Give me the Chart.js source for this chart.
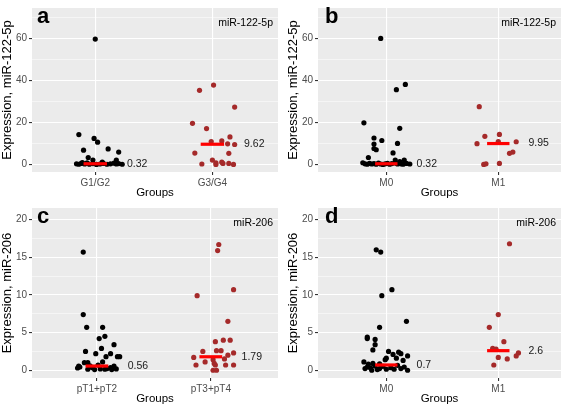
<!DOCTYPE html>
<html>
<head>
<meta charset="utf-8">
<script src="https://cdn.jsdelivr.net/npm/chart.js@4.4.1/dist/chart.umd.min.js"></script>
<style>
html, body { margin: 0; padding: 0; background: #ffffff; }
#wrap { position: relative; width: 567px; height: 406px; overflow: hidden; }
canvas { position: absolute; }
</style>
</head>
<body>
<div id="wrap">
  <canvas id="panel_a" width="283" height="200" style="left:0px;top:0px"></canvas>
  <canvas id="panel_b" width="284" height="200" style="left:283px;top:0px"></canvas>
  <canvas id="panel_c" width="283" height="206" style="left:0px;top:200px"></canvas>
  <canvas id="panel_d" width="284" height="206" style="left:283px;top:200px"></canvas>
</div>
<script>
// values (y = expression, jit = horizontal jitter around the group)
var panel_letters = ['a', 'b', 'c', 'd'];
var mirna_names = ['miR-122-5p', 'miR-122-5p', 'miR-206', 'miR-206'];

var groups_a = ['G1/G2', 'G3/G4'];
var groups_b = ['M0', 'M1'];
var groups_c = ['pT1+pT2', 'pT3+pT4'];
var groups_d = ['M0', 'M1'];

var medians_a = [0.32, 9.62];
var medians_b = [0.32, 9.95];
var medians_c = [0.56, 1.79];
var medians_d = [0.7, 2.6];

var y_ticks_122 = [0, 20, 40, 60];
var y_ticks_206 = [0, 5, 10, 15, 20];

var a_low_y = [59.7, 14.2, 12.4, 10.6, 7.4, 6.8, 5.9, 3.3, 2.1, 2.1, 1.1, 0.9, 0.3, 0.1, 0.5, 0.2, 0.8, 0.1, 0.4, 0.0, 0.2, 0.5, 0.1, 0.3, 0.6, 0.2, 0.4, 0.1];
var a_low_jit = [0.0, -0.14, -0.01, 0.02, 0.11, -0.10, 0.20, -0.06, -0.02, 0.18, 0.06, -0.11, -0.16, -0.14, -0.12, -0.09, -0.07, -0.05, -0.02, 0.01, 0.04, 0.07, 0.10, 0.13, 0.16, 0.18, 0.20, 0.23];
var a_high_y = [35.3, 37.8, 27.3, 19.6, 17.1, 10.9, 11.2, 13.1, 9.8, 9.5, 5.4, 5.3, 2.1, 0.8, 1.1, 0.5, 0.2, 0.0, 0.5, 0.0];
var a_high_jit = [-0.11, 0.01, 0.19, -0.17, -0.05, -0.01, 0.08, 0.15, 0.13, 0.19, -0.15, 0.14, 0.0, 0.03, 0.08, 0.09, -0.09, 0.03, 0.14, 0.18];

var b_low_y = [60.0, 35.6, 38.1, 19.8, 17.2, 12.6, 11.4, 10.0, 9.7, 7.6, 7.0, 5.5, 3.3, 2.1, 2.1, 1.4, 0.8, 0.3, 0.1, 0.5, 0.2, 0.4, 0.1, 0.6, 0.2, 0.0, 0.3, 0.5, 0.1, 0.4, 0.7, 0.2, 0.3, 0.1, 0.5, 0.2];
var b_low_jit = [-0.05, 0.09, 0.17, -0.20, 0.12, -0.11, -0.04, 0.10, -0.11, -0.11, -0.09, 0.06, -0.16, 0.08, 0.16, 0.12, -0.21, -0.19, -0.17, -0.15, -0.13, -0.11, -0.09, -0.07, -0.05, -0.03, -0.01, 0.01, 0.03, 0.05, 0.08, 0.10, 0.13, 0.15, 0.18, 0.21];
var b_high_y = [27.5, 13.4, 14.3, 9.9, 10.9, 10.8, 5.9, 5.3, 0.0, 0.3, 0.5];
var b_high_jit = [-0.17, -0.12, 0.01, -0.19, 0.0, 0.16, 0.13, 0.10, -0.13, -0.11, 0.01];

var c_low_y = [15.7, 7.4, 5.7, 5.7, 4.5, 4.2, 2.9, 3.4, 2.5, 2.2, 2.2, 1.8, 1.8, 1.8, 1.0, 1.0, 1.1, 0.56, 0.30, 0.43, 0.34, 0.13, 0.09, 0.17, 0.22, 0.34, 0.56, 0.09, 0.17, 0.60, 0.69, 0.13];
var c_low_jit = [-0.12, -0.12, -0.09, 0.05, 0.07, 0.02, 0.04, 0.15, -0.10, -0.01, 0.12, 0.08, 0.18, 0.20, -0.08, -0.11, 0.05, -0.16, -0.17, -0.15, -0.04, -0.08, -0.02, 0.03, 0.09, 0.12, 0.15, 0.13, 0.17, -0.06, 0.01, 0.07];
var c_high_y = [16.7, 15.9, 9.9, 10.7, 6.5, 4.0, 4.0, 3.8, 2.5, 2.6, 2.6, 2.3, 1.7, 2.0, 1.5, 1.4, 1.1, 0.9, 0.7, 0.7, 0.7, 0.7, 0.0, 0.0];
var c_high_jit = [0.07, 0.06, -0.12, 0.20, 0.15, 0.11, 0.17, 0.04, -0.07, 0.09, 0.05, 0.20, -0.15, 0.15, 0.12, 0.02, -0.05, 0.03, -0.13, 0.04, 0.20, 0.13, 0.02, 0.05];

var d_low_y = [16.0, 15.7, 10.7, 9.9, 6.5, 5.7, 4.4, 4.2, 4.1, 3.4, 2.7, 2.5, 2.4, 2.2, 2.1, 1.9, 1.6, 1.4, 1.6, 1.3, 1.1, 0.9, 0.8, 0.22, 0.43, 0.30, 0.56, 0.09, 0.22, 0.52, 0.13, 0.34, 0.13, 0.65, 0.22, 0.43, 0.0, 0.0, 0.86];
var d_low_jit = [-0.09, -0.05, 0.05, -0.04, 0.18, -0.06, -0.17, -0.17, -0.10, -0.10, -0.12, 0.02, 0.11, 0.13, 0.06, 0.19, 0.0, -0.01, 0.09, 0.15, -0.20, -0.12, -0.16, -0.19, -0.17, -0.14, -0.10, -0.08, -0.06, -0.03, 0.0, 0.04, 0.07, 0.10, 0.13, 0.16, 0.19, -0.13, -0.06];
var d_high_y = [16.8, 7.4, 5.7, 3.8, 2.9, 2.8, 1.7, 1.5, 2.3, 1.9, 0.7];
var d_high_jit = [0.10, 0.0, -0.08, 0.05, -0.05, -0.02, 0.0, 0.08, 0.18, 0.16, -0.04];

var FONT = '"Liberation Sans", Arial, sans-serif';
Chart.defaults.font.family = FONT;

function strip_points(values, jitter, center) {
    var pts = [];
    for (var i = 0; i < values.length; i++) {
        pts.push({x: center + jitter[i], y: values[i]});
    }
    return pts;
}

function median_line(value, center) {
    return [{x: center - 0.1, y: value}, {x: center + 0.1, y: value}];
}

function is_major(v, majors) {
    for (var i = 0; i < majors.length; i++) {
        if (Math.abs(v - majors[i]) < 1e-6) return true;
    }
    return false;
}

function draw_strip(EleID, idx, groups, medians, low, high, y_title, majors, box) {
    var ctx = document.getElementById(EleID).getContext('2d');
    var step = majors[1] - majors[0];
    var grid_vals = [];
    for (var v = 0; v <= box.ymax; v += step / 2) grid_vals.push(v);

    var panel_text = {
        id: 'panel_text',
        beforeDraw: function(chart) {
            var a = chart.chartArea, c = chart.ctx;
            c.save();
            c.fillStyle = '#EBEBEB';
            c.fillRect(a.left, a.top, a.right - a.left, a.bottom - a.top);
            c.restore();
        },
        afterDraw: function(chart) {
            var a = chart.chartArea, c = chart.ctx;
            var xs = chart.scales.x, ys = chart.scales.y;
            c.save();
            c.fillStyle = '#000000';
            c.font = 'bold 22px ' + FONT;
            c.textAlign = 'left';
            c.textBaseline = 'alphabetic';
            c.fillText(panel_letters[idx], a.left + box.letter_dx, 22.5);
            c.font = '10.5px ' + FONT;
            c.textAlign = 'right';
            c.textBaseline = 'middle';
            c.fillText(mirna_names[idx], a.right - 5, 23.5);
            c.textAlign = 'left';
            c.fillStyle = '#1A1A1A';
            for (var g = 0; g < 2; g++) {
                c.fillText(String(medians[g]), xs.getPixelForValue(g + 1.27), ys.getPixelForValue(medians[g]));
            }
            c.restore();
        }
    };

    var config = {
        type: 'scatter',
        data: {
            datasets: [
                {data: median_line(medians[0], 1), showLine: true, borderColor: '#FF0000', borderWidth: 3.2, pointRadius: 0, borderCapStyle: 'butt'},
                {data: median_line(medians[1], 2), showLine: true, borderColor: '#FF0000', borderWidth: 3.2, pointRadius: 0, borderCapStyle: 'butt'},
                {data: low, backgroundColor: '#000000', borderWidth: 0, pointRadius: 2.6},
                {data: high, backgroundColor: '#A52A2A', borderWidth: 0, pointRadius: 2.6}
            ]
        },
        options: {
            responsive: false,
            animation: false,
            clip: false,
            layout: {padding: {left: 0, right: box.w - box.right, top: box.top, bottom: 0}},
            plugins: {legend: {display: false}, tooltip: {enabled: false}},
            scales: {
                x: {
                    type: 'linear',
                    min: box.xmin,
                    max: box.xmax,
                    afterBuildTicks: function(s) { s.ticks = [{value: 1}, {value: 2}]; },
                    afterFit: function(s) { s.height = box.h - box.bottom; },
                    border: {display: false},
                    grid: {color: '#FFFFFF', lineWidth: 1.1, tickLength: 3, tickColor: '#333333'},
                    ticks: {
                        autoSkip: false, maxRotation: 0, padding: 2,
                        color: '#4D4D4D', font: {size: 10},
                        callback: function(v) { return groups[Math.round(v) - 1]; }
                    },
                    title: {display: true, text: 'Groups', color: '#000000', font: {size: 11.5}, padding: 0}
                },
                y: {
                    type: 'linear',
                    min: box.ymin,
                    max: box.ymax,
                    afterBuildTicks: function(s) { s.ticks = grid_vals.map(function(v) { return {value: v}; }); },
                    afterFit: function(s) { s.width = box.left; },
                    border: {display: false},
                    grid: {
                        color: '#FFFFFF',
                        lineWidth: function(c) { return is_major(c.tick.value, majors) ? 1.1 : 0.5; },
                        tickLength: 3,
                        tickColor: function(c) { return is_major(c.tick.value, majors) ? '#333333' : 'rgba(0,0,0,0)'; }
                    },
                    ticks: {
                        autoSkip: false, padding: 2,
                        color: '#4D4D4D', font: {size: 10},
                        callback: function(v) { return is_major(v, majors) ? String(v) : ''; }
                    },
                    title: {display: true, text: y_title, color: '#000000', font: {size: 13}, padding: {top: box.title_pad, bottom: 0}}
                }
            }
        },
        plugins: [panel_text]
    };
    return new Chart(ctx, config);
}

draw_strip('panel_a', 0, groups_a, medians_a,
    strip_points(a_low_y, a_low_jit, 1), strip_points(a_high_y, a_high_jit, 2),
    'Expression, miR-122-5p', y_ticks_122,
    {w: 283, h: 200, left: 32, right: 278, top: 0, bottom: 172, xmin: 0.46, xmax: 2.56, ymin: -3.6, ymax: 74.5, title_pad: 0, letter_dx: 5});

draw_strip('panel_b', 1, groups_b, medians_b,
    strip_points(b_low_y, b_low_jit, 1), strip_points(b_high_y, b_high_jit, 2),
    'Expression, miR-122-5p', y_ticks_122,
    {w: 284, h: 200, left: 35, right: 278, top: 0, bottom: 172, xmin: 0.39, xmax: 2.56, ymin: -3.6, ymax: 74.5, title_pad: 2.5, letter_dx: 7});

draw_strip('panel_c', 2, groups_c, medians_c,
    strip_points(c_low_y, c_low_jit, 1), strip_points(c_high_y, c_high_jit, 2),
    'Expression, miR-206', y_ticks_206,
    {w: 283, h: 206, left: 32, right: 278, top: 3, bottom: 178, xmin: 0.43, xmax: 2.59, ymin: -1.03, ymax: 21.55, title_pad: 0, letter_dx: 5});

draw_strip('panel_d', 3, groups_d, medians_d,
    strip_points(d_low_y, d_low_jit, 1), strip_points(d_high_y, d_high_jit, 2),
    'Expression, miR-206', y_ticks_206,
    {w: 284, h: 206, left: 35, right: 278, top: 3, bottom: 178, xmin: 0.39, xmax: 2.56, ymin: -1.03, ymax: 21.55, title_pad: 2.5, letter_dx: 7});
</script>
</body>
</html>
